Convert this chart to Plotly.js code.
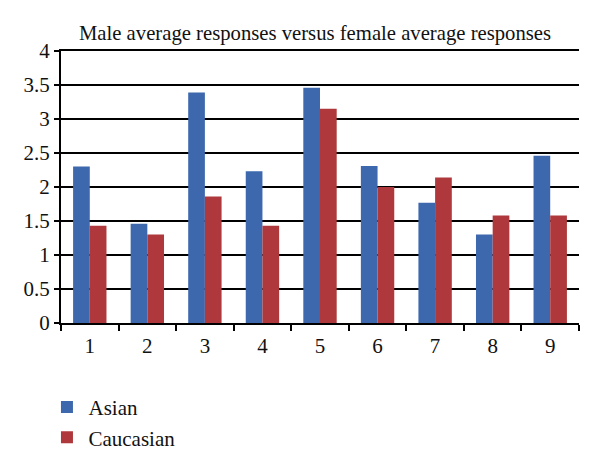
<!DOCTYPE html>
<html><head><meta charset="utf-8">
<script src="https://cdn.plot.ly/plotly-3.0.1.min.js"></script>
<style>body{margin:0;background:#fff}#chart{width:600px;height:470px}</style>
</head><body><div id="chart"></div>
<script>
const categories = ["1","2","3","4","5","6","7","8","9"];
const asian = [2.3, 1.46, 3.39, 2.23, 3.46, 2.31, 1.77, 1.3, 2.46];
const caucasian = [1.43, 1.3, 1.86, 1.43, 3.15, 2.0, 2.14, 1.58, 1.58];
const seriesNames = ["Asian", "Caucasian"];
const yTicks = [0, 0.5, 1, 1.5, 2, 2.5, 3, 3.5, 4];
const yTickText = ["0", "0.5", "1", "1.5", "2", "2.5", "3", "3.5", "4"];

const font = "Liberation Serif, Times New Roman, serif";
const data = [
  {type: "bar", name: seriesNames[0], x: categories, y: asian, marker: {color: "#3D68AE"}},
  {type: "bar", name: seriesNames[1], x: categories, y: caucasian, marker: {color: "#AE383B"}}
];
const layout = {
  width: 600, height: 470,
  margin: {l: 61, r: 21, t: 51, b: 144},
  paper_bgcolor: "#fff", plot_bgcolor: "#fff",
  font: {family: font, color: "#111", size: 21},
  title: {text: "Male average responses versus female average responses", font: {family: font, size: 20.7, color: "#111"}, x: 0.525, xanchor: "center", y: 0.93, yanchor: "middle"},
  barmode: "group", bargap: 0.42, bargroupgap: 0,
  xaxis: {type: "category", showline: true, mirror: true, linecolor: "#000", linewidth: 2, ticks: "outside", tickson: "boundaries", ticklen: 6, tickcolor: "#000", tickwidth: 2, showgrid: false, ticklabelstandoff: 3, tickfont: {size: 21, family: font}, fixedrange: true},
  yaxis: {range: [0, 4], tickvals: yTicks, ticktext: yTickText, showline: true, linecolor: "#000", linewidth: 2, ticks: "outside", ticklen: 5, tickwidth: 1.5, tickcolor: "#000", gridcolor: "#000", gridwidth: 1.5, zeroline: false, tickfont: {size: 21, family: font}, fixedrange: true},
  showlegend: true,
  legend: {orientation: "v", x: -0.03, xanchor: "left", y: -0.235, yanchor: "top", font: {size: 21, family: font}, itemwidth: 33, tracegroupgap: 2}
};
Plotly.newPlot("chart", data, layout, {displayModeBar: false, staticPlot: true});
</script></body></html>
